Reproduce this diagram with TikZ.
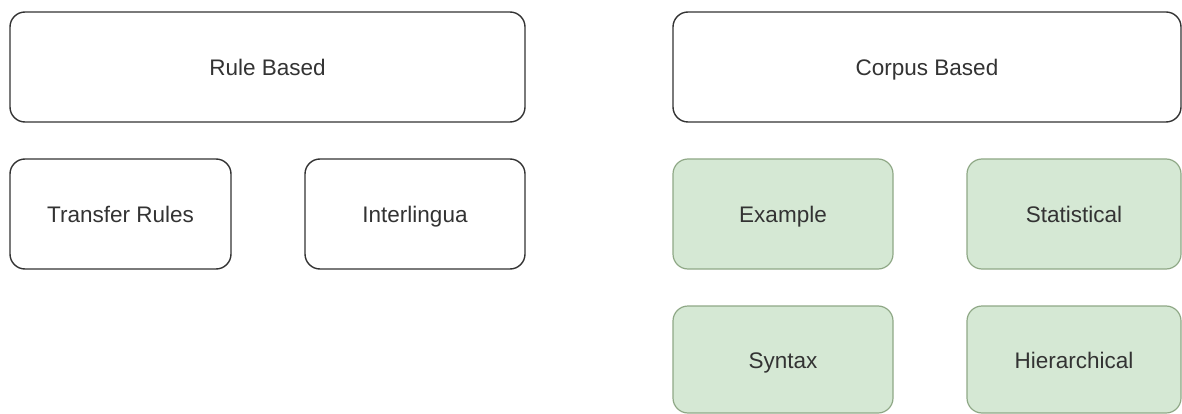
\documentclass[tikz,border=0pt]{standalone}
\usepackage{fontspec}
\setmainfont{Liberation Sans}
\definecolor{boxline}{HTML}{333333}
\definecolor{greenfill}{HTML}{D5E8D4}
\definecolor{greenline}{HTML}{8FA886}
\tikzset{
  plainbox/.style={draw=boxline, line width=1.4pt, rounded corners=15pt, fill=white,
    inner sep=0pt, text=boxline, text height=17.5pt, text depth=0pt,
    font=\fontsize{22.5}{26}\selectfont},
  greenbox/.style={plainbox, draw=greenline, fill=greenfill, line width=1.2pt},
}
\begin{document}
\begin{tikzpicture}[x=1pt, y=-1pt]
      \useasboundingbox (0,0) rectangle (1182,414);
      \node[plainbox, minimum width=515pt, minimum height=110pt] (rule) at (267.5,67) {Rule Based};
      \node[plainbox, minimum width=508pt, minimum height=110pt] (corpus) at (927,67) {Corpus Based};
      \node[plainbox, minimum width=221pt, minimum height=110pt] (transfer) at (120.5,214) {Transfer Rules};
      \node[plainbox, minimum width=220pt, minimum height=110pt] (inter) at (415,214) {Interlingua};
      \node[greenbox, minimum width=220pt, minimum height=110pt] (example) at (783,214) {Example};
      \node[greenbox, minimum width=214pt, minimum height=110pt] (stat) at (1074,214) {Statistical};
      \node[greenbox, minimum width=220pt, minimum height=107pt] (syntax) at (783,359.5) {Syntax};
      \node[greenbox, minimum width=214pt, minimum height=107pt] (hier) at (1074,359.5) {Hierarchical};
    \end{tikzpicture}
\end{document}
